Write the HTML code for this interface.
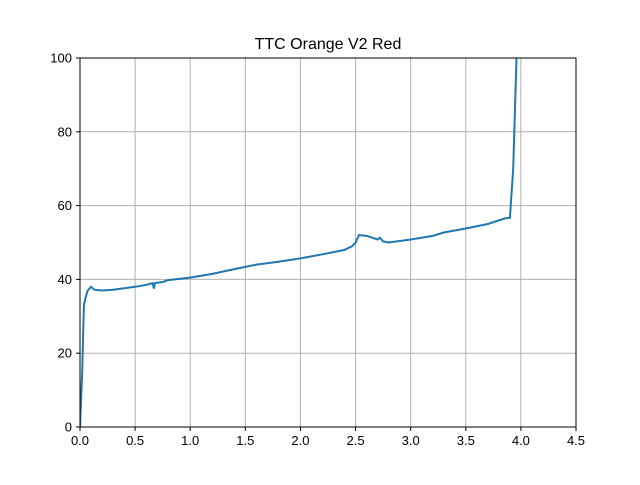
<!DOCTYPE html>
<html><head><meta charset="utf-8"><style>
body{margin:0;background:#fff;font-family:"Liberation Sans","DejaVu Sans",sans-serif}
</style></head><body>
<svg id="c" width="640" height="480" xmlns="http://www.w3.org/2000/svg">
<text x="328" y="49" text-anchor="middle" font-size="16" fill="#000">TTC Orange V2 Red</text>
<g id="grid"></g>
<g id="ticks"></g>
<clipPath id="cp"><rect x="80" y="58" width="496" height="369"/></clipPath>
<path id="line" fill="none" stroke="#1f77b4" stroke-width="2" clip-path="url(#cp)"/>
<rect x="80" y="58" width="496" height="369" fill="none" stroke="#000" stroke-width="1"/>
</svg>
<script>
const xs=[0,0.02,0.035,0.05,0.07,0.1,0.13,0.2,0.3,0.4,0.5,0.6,0.66,0.67,0.68,0.75,0.8,1.0,1.2,1.4,1.6,1.8,2.0,2.2,2.4,2.47,2.5,2.53,2.6,2.65,2.7,2.72,2.75,2.8,3.0,3.2,3.3,3.5,3.7,3.85,3.9,3.93,3.96];
const ys=[0,15,33,35,37,38,37.2,37,37.2,37.6,38,38.5,39,37.5,39,39.3,39.8,40.5,41.5,42.8,44,44.8,45.7,46.8,48,49,50,52,51.8,51.3,50.8,51.3,50.3,50,50.8,51.8,52.7,53.8,55,56.5,56.7,70,100];
const xTicks=["0.0","0.5","1.0","1.5","2.0","2.5","3.0","3.5","4.0","4.5"];
const yTicks=["0","20","40","60","80","100"];
const X=v=>80+v/4.5*496, Y=v=>427-v/100*369;
const NS="http://www.w3.org/2000/svg";
const g=document.getElementById('grid'),t=document.getElementById('ticks');
function mk(tag,at,p){const e=document.createElementNS(NS,tag);for(const k in at)e.setAttribute(k,at[k]);p.appendChild(e);return e;}
xTicks.forEach(s=>{const x=X(+s);
const l=mk('line',{x1:x,x2:x,y1:58,y2:427,stroke:'#b0b0b0','stroke-width':1},g);


mk('line',{x1:x,x2:x,y1:427,y2:431,stroke:'#000'},t);
const tx=mk('text',{x:x,y:445,'text-anchor':'middle','font-size':13},t);tx.textContent=s;

});
yTicks.forEach(s=>{const y=Y(+s);
const l=mk('line',{x1:80,x2:576,y1:y,y2:y,stroke:'#b0b0b0','stroke-width':1},g);


mk('line',{x1:76,x2:80,y1:y,y2:y,stroke:'#000'},t);
const tx=mk('text',{x:72,y:y+4.5,'text-anchor':'end','font-size':13},t);tx.textContent=s;

});
document.getElementById('line').setAttribute('d',xs.map((v,i)=>(i?'L':'M')+X(v).toFixed(1)+','+Y(ys[i]).toFixed(1)).join(''));
</script>
</body></html>
